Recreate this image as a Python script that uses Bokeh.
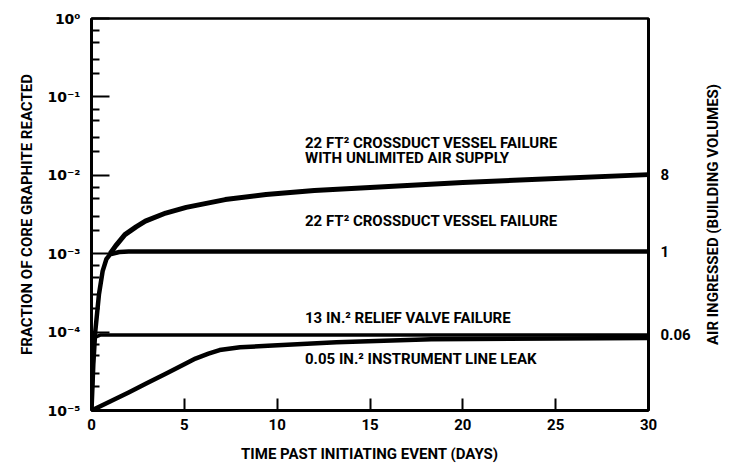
from bokeh.plotting import figure
from bokeh.layouts import row
from bokeh.models import Range1d, FixedTicker, LogAxis, Label
from bokeh.embed import file_html
from bokeh.resources import INLINE

FONT = "Roboto"
TICK_FONT = "DejaVu Sans"

# ---- data ----
days_unlimited = [1.0, 1.3, 1.8, 2.4, 2.9, 4.0, 5.1, 7.2, 9.4, 12.0, 15.0, 20.0, 25.0, 30.0]
frac_unlimited = [1.0e-3, 1.26e-3, 1.75e-3, 2.2e-3, 2.6e-3, 3.3e-3, 3.9e-3, 4.9e-3, 5.7e-3, 6.4e-3, 7.0e-3, 8.1e-3, 9.1e-3, 1.02e-2]

days_crossduct = [0.0, 0.1, 0.2, 0.4, 0.6, 0.8, 1.0, 1.5, 2.0, 5.0, 10.0, 15.0, 20.0, 25.0, 30.0]
frac_crossduct = [1e-5, 4e-5, 1e-4, 3e-4, 6e-4, 8.5e-4, 9.8e-4, 1.05e-3, 1.07e-3, 1.07e-3, 1.07e-3, 1.07e-3, 1.07e-3, 1.07e-3, 1.07e-3]

days_relief = [0.0, 0.15, 0.5, 5.0, 10.0, 15.0, 20.0, 25.0, 30.0]
frac_relief = [1e-5, 8.5e-5, 9.2e-5, 9.2e-5, 9.2e-5, 9.2e-5, 9.2e-5, 9.2e-5, 9.2e-5]

days_instrument = [0.0, 1.0, 2.0, 3.0, 4.0, 5.0, 5.6, 6.3, 6.9, 8.0, 9.5, 13.2, 18.3, 25.0, 30.0]
frac_instrument = [1e-5, 1.3e-5, 1.7e-5, 2.25e-5, 2.95e-5, 3.9e-5, 4.6e-5, 5.3e-5, 5.9e-5, 6.4e-5, 6.7e-5, 7.4e-5, 8.1e-5, 8.3e-5, 8.4e-5]

x_ticks = [0, 5, 10, 15, 20, 25, 30]
x_tick_labels = ["0", "5", "10", "15", "20", "25", "30"]
y_ticks = [1e-5, 1e-4, 1e-3, 1e-2, 1e-1, 1e0]
y_tick_labels = ["10\u207b\u2075", "10\u207b\u2074", "10\u207b\u00b3", "10\u207b\u00b2", "10\u207b\u00b9", "10\u2070"]
air_ingressed_labels = ["8", "1", "0.06"]

series_labels = [
    "22 FT\u00b2 CROSSDUCT VESSEL FAILURE",
    "WITH UNLIMITED AIR SUPPLY",
    "22 FT\u00b2 CROSSDUCT VESSEL FAILURE",
    "13 IN.\u00b2 RELIEF VALVE FAILURE",
    "0.05 IN.\u00b2 INSTRUMENT LINE LEAK",
]

# ---- main figure ----
p = figure(width=700, height=466, x_range=Range1d(0, 30), y_range=Range1d(1e-5, 1),
           y_axis_type="log", output_backend="svg", toolbar_location=None,
           min_border_left=91, min_border_right=52, min_border_top=18, min_border_bottom=56)
p.background_fill_color = "white"
p.border_fill_color = "white"
p.grid.visible = False
p.outline_line_color = "black"
p.outline_line_width = 2.5

# x axis
xa = p.xaxis[0]
xa.ticker = FixedTicker(ticks=x_ticks)
xa.major_label_overrides = {t: s for t, s in zip(x_ticks, x_tick_labels)}
xa.axis_label = "TIME PAST INITIATING EVENT (DAYS)"
xa.minor_tick_line_color = None

# y axis
minor = [m * 10.0 ** e for e in range(-5, 0) for m in (2, 3, 5, 7)]
ya = p.yaxis[0]
ya.ticker = FixedTicker(ticks=y_ticks, minor_ticks=minor)
ya.major_label_overrides = {t: s for t, s in zip(y_ticks, y_tick_labels)}
ya.axis_label = "FRACTION OF CORE GRAPHITE REACTED"

# right axis: air ingressed at the curve ends
ends = [frac_unlimited[-1], frac_crossduct[-1], frac_relief[-1]]
ra = LogAxis(ticker=FixedTicker(ticks=ends, minor_ticks=[]))
ra.major_label_overrides = {t: s for t, s in zip(ends, air_ingressed_labels)}
p.add_layout(ra, "right")

for ax in (xa, ya, ra):
    ax.axis_line_color = "black"
    ax.axis_line_width = 3
    ax.major_tick_line_color = "black"
    ax.major_tick_line_width = 2
    ax.major_tick_out = 0
    ax.minor_tick_out = 0
    ax.minor_tick_line_width = 2
    ax.major_label_text_font = FONT
    ax.major_label_text_font_style = "bold"
    ax.major_label_text_font_size = "15px"
    ax.major_label_text_color = "black"
    ax.axis_label_text_font = FONT
    ax.axis_label_text_font_style = "bold"
    ax.axis_label_text_font_size = "15px"
    ax.axis_label_text_color = "black"

ya.major_label_text_font = TICK_FONT
ya.major_label_text_font_size = "14px"
xa.major_tick_in = 12
xa.major_label_standoff = 8
xa.axis_label_standoff = 12
ya.major_tick_in = 18
ya.minor_tick_in = 8
ya.minor_tick_line_color = "black"
ya.major_label_standoff = 11
ya.axis_label_standoff = 8
ra.major_tick_line_color = None
ra.minor_tick_line_color = None
ra.major_label_standoff = 12
ra.major_label_orientation = "horizontal"

# curves
p.line(days_unlimited, frac_unlimited, line_color="black", line_width=5, line_join="round")
p.line(days_crossduct, frac_crossduct, line_color="black", line_width=4.5, line_join="round")
p.line(days_relief, frac_relief, line_color="black", line_width=3.5, line_join="round")
p.line(days_instrument, frac_instrument, line_color="black", line_width=4.5, line_join="round")

# annotations
label_x = [11.5, 11.5, 11.5, 11.5, 11.5]
label_y = [2.6e-2, 1.65e-2, 2.65e-3, 1.5e-4, 4.6e-5]
for t, lx, ly in zip(series_labels, label_x, label_y):
    p.add_layout(Label(x=lx, y=ly, text=t, text_font=FONT, text_font_style="bold",
                       text_font_size="15px", text_baseline="middle", text_color="black"))

# ---- narrow companion panel carrying the right-hand title (reads bottom to top) ----
p2 = figure(width=23, height=466, x_range=Range1d(0, 1), y_range=Range1d(1e-5, 1),
            y_axis_type="log", output_backend="svg", toolbar_location=None,
            min_border_left=20, min_border_right=0, min_border_top=18, min_border_bottom=56)
p2.grid.visible = False
p2.xaxis.visible = False
p2.outline_line_color = None
p2.background_fill_color = "white"
p2.border_fill_color = "white"
ta = p2.yaxis[0]
ta.ticker = FixedTicker(ticks=[], minor_ticks=[])
ta.axis_line_color = None
ta.major_tick_line_color = None
ta.minor_tick_line_color = None
ta.major_tick_in = 0
ta.major_tick_out = 0
ta.minor_tick_in = 0
ta.minor_tick_out = 0
ta.major_label_standoff = 0
ta.axis_label = "AIR INGRESSED (BUILDING VOLUMES)"
ta.axis_label_standoff = 0
ta.axis_label_text_font = FONT
ta.axis_label_text_font_style = "bold"
ta.axis_label_text_font_size = "15px"
ta.axis_label_text_color = "black"

layout = row(p, p2)
open("out.html", "w").write(file_html(layout, INLINE))
